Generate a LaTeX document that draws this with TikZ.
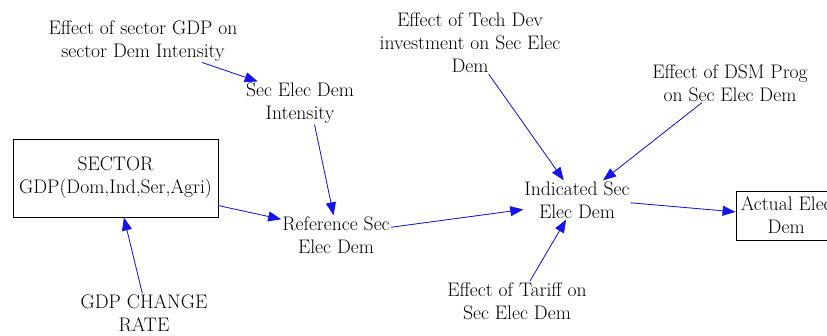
\documentclass[tikz,border=0pt]{standalone}
\usetikzlibrary{arrows.meta}
\definecolor{arrowblue}{RGB}{20,20,235}
\tikzset{
  lbl/.style={align=center, inner sep=1pt, font=\fontsize{19.6}{23}\selectfont},
  boxed/.style={lbl, draw, line width=0.9pt},
  link/.style={draw=arrowblue, line width=0.8pt, -{Triangle[length=13pt,width=10pt]}, fill=arrowblue}
}
\begin{document}
\begin{tikzpicture}[x=1pt,y=-1pt]
\useasboundingbox[fill=white] (0,0) rectangle (827,336);

\node[lbl] (gdpeff) at (143,41) {Effect of sector GDP on\\sector Dem Intensity};
\node[lbl] (intens) at (300,103) {Sec Elec Dem\\Intensity};
\node[boxed, minimum width=205pt, minimum height=78pt] (sector) at (115.5,178) {SECTOR\\GDP(Dom,Ind,Ser,Agri)};
\node[lbl] (ref) at (336,235) {Reference Sec\\Elec Dem};
\node[lbl] (gdpchange) at (144,313) {GDP CHANGE\\RATE};
\node[lbl] (techdev) at (470,43) {Effect of Tech Dev\\investment on Sec Elec\\Dem};
\node[lbl] (dsm) at (730,83) {Effect of DSM Prog\\on Sec Elec Dem};
\node[lbl] (ind) at (577,200) {Indicated Sec\\Elec Dem};
\node[lbl] (tariff) at (517,301) {Effect of Tariff on\\Sec Elec Dem};
\node[boxed, minimum width=92pt, minimum height=49pt, text width=100pt] (actual) at (787,215.5) {};
\node[lbl, anchor=west] (actualtxt) at ([xshift=4pt]actual.west) {Actual Elec\\Dem};

\draw[link] (gdpeff.-20) -- (intens.153);
\draw[link] (intens.-56) -- (ref.97);
\draw[link] (sector.-15) -- (ref.164);
\draw[link] (gdpchange.95) -- (sector.-78);
\draw[link] (ref.8) -- (ind.190);
\draw[link] (techdev.-59) -- (ind.124);
\draw[link] (dsm.215) -- (ind.37);
\draw[link] (tariff.57) -- (ind.241);
\draw[link] (ind.-3) -- (actual.176);
\end{tikzpicture}
\end{document}
